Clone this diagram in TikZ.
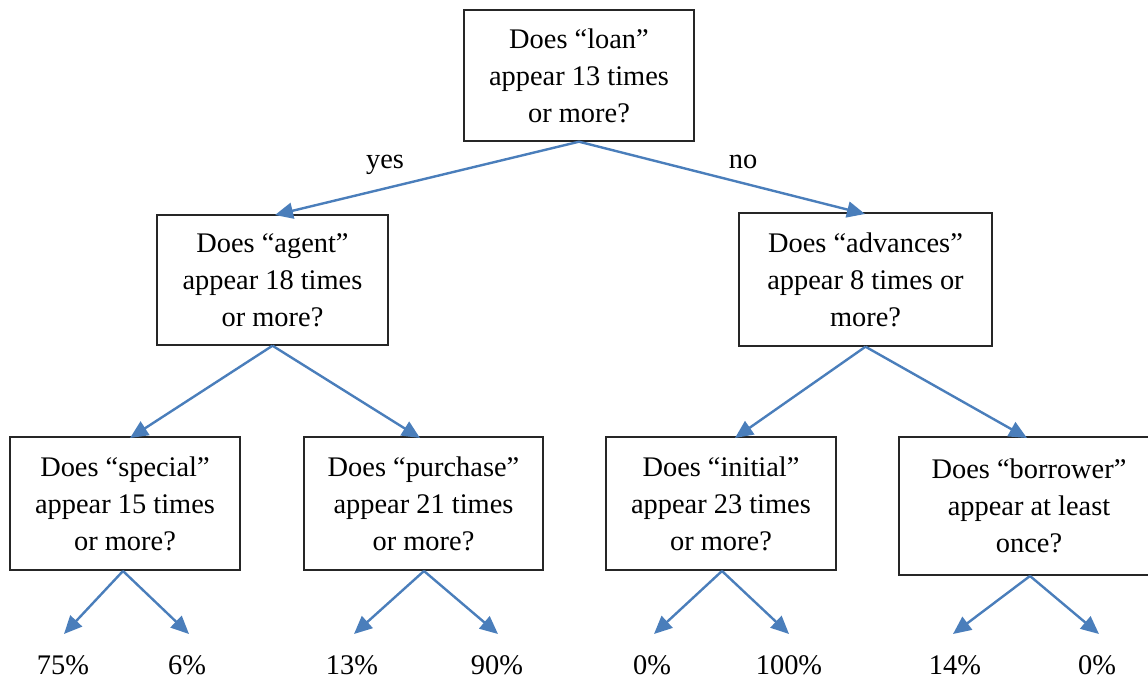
\documentclass[tikz,border=0pt]{standalone}
\usepackage{fontspec}
\setmainfont{Liberation Serif}
\usetikzlibrary{arrows.meta}
\definecolor{arrowblue}{HTML}{4A7EBB}
\definecolor{boxline}{HTML}{262626}
\tikzset{
  qbox/.style={draw=boxline, line width=1.4bp, align=center, inner sep=0pt,
    font=\fontsize{28.5}{37}\selectfont},
  lbl/.style={font=\fontsize{28.5}{37}\selectfont, inner sep=0pt},
  arr/.style={draw=arrowblue, line width=2.4bp, -{Triangle[length=18bp,width=16bp]}}
}
\begin{document}
\begin{tikzpicture}[x=1bp,y=-1bp]
\useasboundingbox (0,0) rectangle (1148,679);
\clip (0,0) rectangle (1148,679);
% question boxes
\node[qbox, minimum width=230bp, minimum height=131bp] (root) at (579,75.5)
  {Does “loan”\\appear 13 times\\or more?};
\node[qbox, minimum width=231bp, minimum height=130bp] (agent) at (272.5,280)
  {Does “agent”\\appear 18 times\\or more?};
\node[qbox, minimum width=253bp, minimum height=133bp] (adv) at (865.5,279.5)
  {Does “advances”\\appear 8 times or\\more?};
\node[qbox, minimum width=230bp, minimum height=133bp] (spec) at (125,503.5)
  {Does “special”\\appear 15 times\\or more?};
\node[qbox, minimum width=239bp, minimum height=133bp] (purch) at (423.5,503.5)
  {Does “purchase”\\appear 21 times\\or more?};
\node[qbox, minimum width=230bp, minimum height=133bp] (init) at (721,503.5)
  {Does “initial”\\appear 23 times\\or more?};
\node[qbox, minimum width=260bp, minimum height=138bp] (borr) at (1029,506)
  {Does “borrower”\\appear at least\\once?};
% branch labels
\node[lbl] (yes) at (385,165) {yes};
\node[lbl] (no) at (743,162) {no};
% leaf labels
\node[lbl] (p1) at (63,665) {75\%};
\node[lbl] (p2) at (187,665) {6\%};
\node[lbl] (p3) at (352,665) {13\%};
\node[lbl] (p4) at (497,665) {90\%};
\node[lbl] (p5) at (652,665) {0\%};
\node[lbl] (p6) at (789,665) {100\%};
\node[lbl] (p7) at (955,665) {14\%};
\node[lbl] (p8) at (1097,665) {0\%};
% arrow tip coordinates for leaves
\coordinate (t1) at (64,634);
\coordinate (t2) at (189,634);
\coordinate (t3) at (354,634);
\coordinate (t4) at (498,634);
\coordinate (t5) at (654,634);
\coordinate (t6) at (789,634);
\coordinate (t7) at (953,634);
\coordinate (t8) at (1099,634);
\coordinate (s1) at (123,571);
\coordinate (s2) at (424,571);
\coordinate (s3) at (722,571);
\coordinate (s4) at (1030,576);
% connectors
\draw[arr] (root.south) -- (275,215);
\draw[arr] (root.south) -- (865,214);
\draw[arr] (agent.south) -- (130,438);
\draw[arr] (agent.south) -- (420,438);
\draw[arr] (adv.south) -- (735,438);
\draw[arr] (adv.south) -- (1027,438);
\draw[arr] (s1) -- (t1);
\draw[arr] (s1) -- (t2);
\draw[arr] (s2) -- (t3);
\draw[arr] (s2) -- (t4);
\draw[arr] (s3) -- (t5);
\draw[arr] (s3) -- (t6);
\draw[arr] (s4) -- (t7);
\draw[arr] (s4) -- (t8);
\end{tikzpicture}
\end{document}
